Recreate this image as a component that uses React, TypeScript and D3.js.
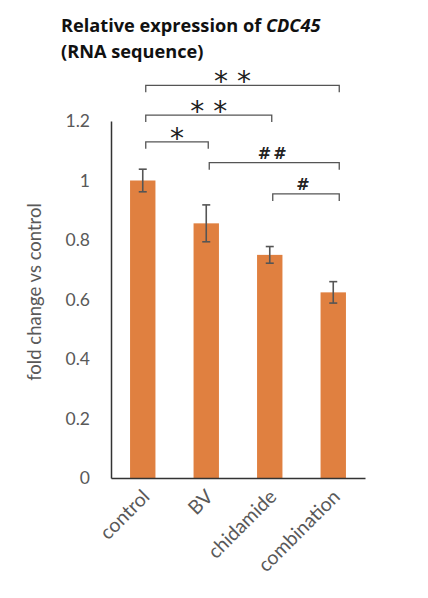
import React, { useEffect, useRef } from 'react';
import * as d3 from 'd3';

const categories = ['control', 'BV', 'chidamide', 'combination'];
const values = [1.0, 0.856, 0.75, 0.624];
const errors = [0.038, 0.062, 0.028, 0.036];
const yTicks = [0, 0.2, 0.4, 0.6, 0.8, 1, 1.2];
const yTickLabels = ['0', '0.2', '0.4', '0.6', '0.8', '1', '1.2'];

// significance brackets: from / to category index, label, level (y value of bracket line)
const brackets = [
  { from: 0, to: 3, label: '* *', level: 1.32, shift: -10 },
  { from: 0, to: 2, label: '* *', level: 1.22, shift: 0 },
  { from: 0, to: 1, label: '*', level: 1.13, shift: 0 },
  { from: 1, to: 3, label: '##', level: 1.06, shift: -1 },
  { from: 2, to: 3, label: '#', level: 0.955, shift: -2 },
];

const W = 428;
const H = 598;
const margin = { left: 111, right: 63, top: 120, bottom: 120 };
const orange = '#E08040';
const gray = '#595959';
const font = "Lato, 'Open Sans', sans-serif";

const BarChart: React.FC = () => {
  const ref = useRef<SVGSVGElement>(null);

  useEffect(() => {
    const svg = d3.select(ref.current);
    svg.selectAll('*').remove();

    const x = d3.scaleBand()
      .domain(categories)
      .range([margin.left, W - margin.right])
      .padding(0.6)
      .paddingOuter(0.3);

    const y = d3.scaleLinear()
      .domain([0, 1.2])
      .range([H - margin.bottom, margin.top + 1]);

    const cx = (i: number) => (x(categories[i]) ?? 0) + x.bandwidth() / 2;

    // title
    const title = svg.append('text')
      .attr('x', 61)
      .attr('y', 32)
      .attr('font-family', "'Open Sans', sans-serif")
      .attr('font-weight', 700)
      .attr('font-size', 18.2)
      .attr('fill', '#111');
    title.append('tspan').text('Relative expression of ');
    title.append('tspan').attr('font-style', 'italic').text('CDC45');
    svg.append('text')
      .attr('x', 61)
      .attr('y', 58)
      .attr('font-family', "'Open Sans', sans-serif")
      .attr('font-weight', 700)
      .attr('font-size', 18.2)
      .attr('fill', '#111')
      .text('(RNA sequence)');

    // bars
    svg.selectAll('.bar')
      .data(values)
      .enter()
      .append('rect')
      .attr('x', (_, i) => x(categories[i]) ?? 0)
      .attr('y', (d) => y(d))
      .attr('width', x.bandwidth())
      .attr('height', (d) => y(0) - y(d))
      .attr('fill', orange);

    // error bars
    const eb = svg.append('g').attr('stroke', '#555').attr('stroke-width', 1.6);
    values.forEach((v, i) => {
      const c = cx(i);
      eb.append('line').attr('x1', c).attr('x2', c).attr('y1', y(v + errors[i])).attr('y2', y(v - errors[i]));
      eb.append('line').attr('x1', c - 4).attr('x2', c + 4).attr('y1', y(v + errors[i])).attr('y2', y(v + errors[i]));
      eb.append('line').attr('x1', c - 4).attr('x2', c + 4).attr('y1', y(v - errors[i])).attr('y2', y(v - errors[i]));
    });

    // y axis
    const yAxis = d3.axisLeft(y)
      .tickValues(yTicks)
      .tickSize(0)
      .tickPadding(21)
      .tickFormat((_, i) => yTickLabels[i]);
    const gy = svg.append('g')
      .attr('transform', `translate(${margin.left},0)`)
      .call(yAxis);
    gy.select('.domain').attr('stroke', '#333').attr('stroke-width', 1.5);
    gy.selectAll('text')
      .attr('font-family', font)
      .attr('font-size', 17.5)
      .attr('fill', gray);

    // x axis
    const xAxis = d3.axisBottom(x).tickSize(0).tickPadding(0);
    const gx = svg.append('g')
      .attr('transform', `translate(0,${y(0)})`)
      .call(xAxis);
    gx.select('.domain').attr('stroke', '#333').attr('stroke-width', 1.5);
    gx.selectAll('text')
      .attr('font-family', font)
      .attr('font-size', 19.5)
      .attr('fill', gray)
      .attr('text-anchor', 'end')
      .attr('dy', 0)
      .attr('transform', 'translate(8,20) rotate(-45)');

    // y axis title
    svg.append('text')
      .attr('transform', `translate(41,292) rotate(-90)`)
      .attr('text-anchor', 'middle')
      .attr('font-family', font)
      .attr('font-size', 18.5)
      .attr('fill', gray)
      .text('fold change vs control');

    // significance brackets
    const gb = svg.append('g');
    brackets.forEach((b) => {
      const x1 = cx(b.from) + 3;
      const x2 = cx(b.to) + (b.to === 3 ? 6 : 2);
      const by = y(b.level);
      gb.append('path')
        .attr('d', `M${x1},${by + 7}V${by}H${x2}V${by + 7}`)
        .attr('fill', 'none')
        .attr('stroke', '#555')
        .attr('stroke-width', 1.3);
      const star = b.label.includes('*');
      gb.append('text')
        .attr('x', (x1 + x2) / 2 + b.shift)
        .attr('y', star ? by + 6 : by - 4)
        .attr('text-anchor', 'middle')
        .attr('font-family', "'DejaVu Sans', sans-serif")
        .attr('font-weight', star ? 400 : 700)
        .attr('font-size', star ? 28 : 16)
        .attr('letter-spacing', star ? 0 : 2)
        .attr('fill', '#222')
        .text(b.label);
    });
  }, []);

  return (
    <svg
      ref={ref}
      width={W}
      height={H}
      style={{ position: 'absolute', left: 0, top: 0, background: '#fff' }}
    />
  );
};

export default function App() {
  return <BarChart />;
}
